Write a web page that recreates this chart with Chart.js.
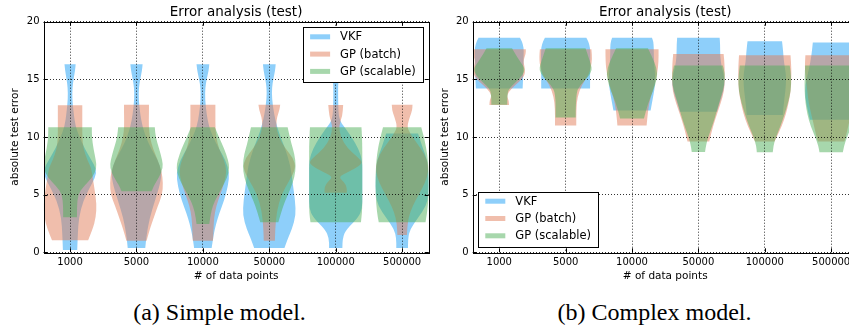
<!DOCTYPE html>
<html>
<head>
<meta charset="utf-8">
<script src="https://cdn.jsdelivr.net/npm/chart.js@4.4.1/dist/chart.umd.min.js"></script>
<style>
html, body { margin:0; padding:0; background:#fff; overflow:hidden; width:849px; height:326px; }
canvas { position:absolute; top:0; }
#left { left:0; }
#right { left:430px; }
.caption { position:absolute; top:300px; line-height:24px; font-family:'Liberation Serif','Times New Roman',serif; font-size:24px; color:#000; white-space:nowrap; transform:translateX(-50%); }
</style>
</head>
<body>
<canvas id="left" width="432" height="290"></canvas>
<canvas id="right" width="445" height="290"></canvas>
<div class="caption" style="left:219.5px">(a) Simple model.</div>
<div class="caption" style="left:654.5px">(b) Complex model.</div>
<script>
// categories and ticks
const categories = ['1000', '5000', '10000', '50000', '100000', '500000'];
const seriesNames = ['VKF', 'GP (batch)', 'GP (scalable)'];
const yTickValues = [0, 5, 10, 15, 20];

// violin outlines: [error value, relative half width]
const simpleVKF = [
  [[0.2,0.27],[1.5,0.29],[3,0.33],[4.5,0.5],[5.5,0.72],[6.5,0.95],[7.2,1.0],[8,0.8],[9,0.55],[10,0.35],[11,0.2],[12,0.14],[13.3,0.08],[14.3,0.09],[15,0.13],[15.8,0.19],[16.3,0.21]],
  [[0.37,0.33],[1.5,0.38],[3,0.5],[4.5,0.7],[6,0.9],[7,0.95],[8,0.8],[9,0.55],[10,0.35],[11,0.22],[12,0.14],[13.3,0.08],[14.3,0.09],[15,0.14],[15.8,0.21],[16.3,0.23]],
  [[0.37,0.33],[1.5,0.4],[2.5,0.5],[3.4,0.62],[4.5,0.8],[5.8,0.95],[6.9,1.0],[8,0.85],[9,0.6],[10,0.38],[11,0.22],[12,0.14],[13.3,0.08],[14.3,0.09],[15,0.14],[15.8,0.22],[16.3,0.24]],
  [[0.37,0.57],[1.2,0.7],[2,0.85],[3.2,1.0],[4.5,0.97],[6,0.88],[7.5,0.8],[9,0.6],[10,0.42],[11,0.28],[12,0.18],[13.3,0.1],[14.3,0.1],[15,0.15],[15.8,0.22],[16.3,0.24]],
  [[0.37,0.25],[1.2,0.25],[2,0.4],[3,0.85],[3.8,1.0],[5,1.0],[6.5,1.0],[8,1.0],[9,0.85],[10,0.6],[10.8,0.35],[11.5,0.12],[13,0.09],[14.5,0.09],[15.5,0.12],[16.3,0.15]],
  [[0.37,0.22],[1.2,0.22],[2,0.3],[3,0.6],[4,0.9],[5,1.0],[6.5,1.0],[8,0.95],[9,0.78],[10.3,0.6]]
];
const simpleBatch = [
  [[1.05,0.68],[2,0.85],[3,0.97],[4.2,1.0],[5.5,0.92],[6.5,0.85],[7.3,0.8],[8,0.65],[9,0.5],[10,0.46],[11,0.46],[12,0.46],[12.75,0.46]],
  [[1.0,0.38],[2,0.5],[3,0.65],[4,0.8],[5,0.97],[6,1.0],[7,0.95],[8,0.8],[9,0.62],[10,0.5],[11,0.46],[12,0.47],[12.8,0.47]],
  [[1.0,0.38],[2,0.4],[3,0.42],[4,0.5],[5,0.65],[6,0.8],[7,0.9],[8,0.8],[9,0.6],[10,0.5],[11,0.47],[12,0.47],[12.8,0.47]],
  [[1.0,0.21],[2,0.22],[3.5,0.28],[5,0.45],[6.2,0.75],[7.3,1.0],[8.2,0.9],[9,0.6],[10,0.35],[11,0.25],[11.8,0.3],[12.3,0.38],[12.8,0.41]],
  [[5.17,0.42],[5.7,0.42],[6.1,0.3],[6.56,0.1],[7,0.5],[7.5,0.9],[7.86,1.0],[8.3,0.8],[9,0.45],[10,0.18],[11,0.12],[11.8,0.25],[12.77,0.28]],
  [[1.5,0.18],[2.5,0.2],[3.5,0.3],[4.5,0.5],[5.5,0.75],[6.5,0.95],[7.5,1.0],[8.5,0.85],[9.5,0.55],[10.3,0.3],[10.9,0.18],[11.8,0.3],[12.3,0.38],[12.8,0.39]]
];
const simpleScalable = [
  [[3.05,0.26],[4,0.26],[5,0.3],[5.7,0.5],[6.5,0.85],[7.3,1.0],[8,0.97],[9,0.88],[10,0.82],[10.85,0.82]],
  [[5.3,0.57],[5.8,0.65],[6.5,0.85],[7.3,1.0],[8,0.97],[9,0.85],[10,0.72],[10.85,0.69]],
  [[2.45,0.24],[3.5,0.3],[4.5,0.45],[5.5,0.7],[6.5,0.92],[7.3,1.0],[8,0.95],[9,0.8],[10,0.6],[10.85,0.45]],
  [[2.6,0.34],[3.5,0.45],[4.5,0.6],[5.5,0.8],[6.5,0.95],[7.5,1.0],[8.5,0.95],[9.5,0.82],[10.85,0.69]],
  [[2.6,0.95],[3.5,1.0],[5,1.0],[6.5,1.0],[8,1.0],[9.5,1.0],[10.85,0.97]],
  [[2.6,0.88],[3.5,0.95],[5,1.0],[7,1.0],[8.5,0.95],[9.7,0.85],[10.85,0.72]]
];
const complexVKF = [
  [[14.2,0.88],[15,0.9],[16,0.9],[17,0.92],[17.8,0.92],[18.3,0.85],[18.6,0.78]],
  [[14.2,0.92],[15,0.92],[16,0.92],[17,0.93],[17.8,0.92],[18.3,0.85],[18.6,0.78]],
  [[12.3,0.7],[13.3,0.78],[14.2,0.85],[15,0.88],[16,0.85],[17,0.82],[17.8,0.82],[18.3,0.8],[18.6,0.75]],
  [[12.2,0.7],[13,0.8],[14,0.95],[15,1.0],[16,0.88],[17,0.82],[18,0.82],[18.6,0.8]],
  [[11.9,0.68],[12.5,0.7],[13.5,0.75],[14.5,0.8],[15.5,0.8],[16.5,0.72],[17.5,0.69],[18.3,0.65]],
  [[11.5,0.8],[12.5,0.9],[13.5,0.98],[14.5,0.97],[15.5,0.88],[16.5,0.78],[17.5,0.72],[18.2,0.69]]
];
const complexBatch = [
  [[12.77,0.37],[13.2,0.36],[13.6,0.28],[14.2,0.45],[15,0.85],[15.6,1.0],[16.6,0.9],[17.2,1.0],[17.6,1.0]],
  [[11.0,0.4],[12.5,0.4],[13.5,0.45],[14.5,0.6],[15.3,0.85],[16,0.95],[16.8,1.0],[17.6,0.97]],
  [[11.0,0.55],[12.3,0.6],[13.5,0.7],[14.5,0.85],[15.5,0.95],[16.5,1.0],[17.6,1.0]],
  [[9.6,0.41],[10,0.45],[11,0.56],[12,0.7],[13,0.85],[14,0.97],[15,1.0],[16.5,0.98],[17.2,0.95]],
  [[9.6,0.37],[10,0.45],[11,0.65],[12,0.8],[13,0.9],[14,0.98],[15,1.0],[16,1.0],[17.1,0.97]],
  [[9.6,0.5],[10,0.55],[11,0.65],[12,0.75],[13,0.85],[14,0.9],[15,0.95],[16,1.0],[17.1,0.97]]
];
const complexScalable = [
  [[12.8,0.3],[13.5,0.3],[14.2,0.35],[15,0.75],[15.8,1.0],[16.5,0.8],[17.2,0.6],[17.7,0.48]],
  [[11.7,0.38],[13.8,0.38],[14.5,0.55],[15.2,0.85],[15.8,1.0],[16.3,0.95],[17,0.85],[17.7,0.75]],
  [[11.6,0.45],[12.5,0.55],[13.5,0.7],[14.5,0.88],[15.5,0.97],[16.5,0.85],[17.7,0.6]],
  [[8.7,0.25],[9.5,0.3],[10.5,0.45],[11.5,0.6],[12.5,0.72],[13.5,0.85],[14.5,0.98],[15.5,1.0],[16.2,0.92]],
  [[8.67,0.3],[9.2,0.32],[10,0.42],[11,0.6],[12,0.75],[13,0.88],[14,0.98],[15.2,1.0],[16.2,0.94]],
  [[8.67,0.44],[9.2,0.48],[10,0.6],[11,0.78],[12,0.9],[13,0.97],[14,1.0],[15,1.0],[16.2,0.98]]
];

const seriesColors = ['rgba(30,160,245,0.5)', 'rgba(225,125,90,0.5)', 'rgba(80,175,90,0.5)'];

Chart.defaults.font.family = "'DejaVu Sans', sans-serif";
Chart.defaults.color = '#000';

// smooth outline through the read points
function trace(ctx, pts) {
  ctx.lineTo(pts[0][0], pts[0][1]);
  for (let k = 1; k < pts.length - 1; k++) {
    const mx = (pts[k][0] + pts[k + 1][0]) / 2;
    const my = (pts[k][1] + pts[k + 1][1]) / 2;
    ctx.quadraticCurveTo(pts[k][0], pts[k][1], mx, my);
  }
  const last = pts[pts.length - 1];
  ctx.lineTo(last[0], last[1]);
}

const violinPlugin = {
  id: 'violins',
  beforeDatasetsDraw(chart) {
    const ctx = chart.ctx;
    const x = chart.scales.x, y = chart.scales.y;
    const area = chart.chartArea;
    ctx.save();
    ctx.beginPath();
    ctx.rect(area.left, area.top, area.right - area.left, area.bottom - area.top);
    ctx.clip();
    chart.data.datasets.forEach(ds => {
      ds.violins.forEach((profile, i) => {
        const c = i + 1;
        const right = profile.map(p => [x.getPixelForValue(c + 0.4 * p[1]), y.getPixelForValue(p[0])]);
        const left = profile.map(p => [x.getPixelForValue(c - 0.4 * p[1]), y.getPixelForValue(p[0])]).reverse();
        ctx.beginPath();
        ctx.moveTo(right[0][0], right[0][1]);
        trace(ctx, right);
        trace(ctx, left);
        ctx.closePath();
        ctx.fillStyle = ds.backgroundColor;
        ctx.fill();
      });
    });
    ctx.restore();
  }
};

const framePlugin = {
  id: 'frame',
  afterDraw(chart, args, opts) {
    const ctx = chart.ctx;
    const a = chart.chartArea;
    const x = chart.scales.x, y = chart.scales.y;
    ctx.save();
    ctx.strokeStyle = '#000';
    ctx.lineWidth = 1;
    ctx.beginPath();
    // tick marks pointing inward on all four sides
    x.ticks.forEach(t => {
      const px = Math.round(x.getPixelForValue(t.value)) + 0.5;
      ctx.moveTo(px, a.bottom); ctx.lineTo(px, a.bottom - 4);
      ctx.moveTo(px, a.top); ctx.lineTo(px, a.top + 4);
    });
    y.ticks.forEach(t => {
      const py = Math.round(y.getPixelForValue(t.value)) + 0.5;
      ctx.moveTo(a.left, py); ctx.lineTo(a.left + 4, py);
      ctx.moveTo(a.right, py); ctx.lineTo(a.right - 4, py);
    });
    ctx.stroke();
    ctx.strokeRect(Math.round(a.left) + 0.5, Math.round(a.top) + 0.5, Math.round(a.right - a.left), Math.round(a.bottom - a.top));

    // legend
    const w = 120, h = 55, pad = 5.6;
    const bx = opts.corner === 'upper right' ? a.right - pad - w : a.left + pad;
    const by = opts.corner === 'upper right' ? a.top + pad : a.bottom - pad - h;
    ctx.fillStyle = '#fff';
    ctx.fillRect(bx, by, w, h);
    ctx.strokeRect(Math.round(bx) + 0.5, Math.round(by) + 0.5, w, h);
    ctx.font = "11.5px 'DejaVu Sans'";
    ctx.textBaseline = 'middle';
    chart.data.datasets.forEach((ds, k) => {
      const ry = by + 9.5 + k * 17.3;
      ctx.fillStyle = ds.backgroundColor;
      ctx.fillRect(bx + 7, ry - 2.5, 20, 5);
      ctx.fillStyle = '#000';
      ctx.fillText(ds.label, bx + 37, ry + 0.5);
    });
    ctx.restore();
  }
};

function makeChart(id, groups, yWidth, yTitlePad, rightPad, corner) {
  return new Chart(document.getElementById(id), {
    type: 'scatter',
    data: {
      datasets: groups.map((g, k) => ({
        label: seriesNames[k],
        data: [],
        violins: g,
        backgroundColor: seriesColors[k]
      }))
    },
    options: {
      responsive: false,
      animation: false,
      devicePixelRatio: 1,
      layout: { padding: { left: 0, top: 0, right: rightPad, bottom: 0 } },
      plugins: {
        legend: { display: false },
        tooltip: { enabled: false },
        title: {
          display: true,
          text: 'Error analysis (test)',
          fullSize: false,
          font: { size: 13.5, weight: 'normal' },
          padding: { top: 4, bottom: 1.5 }
        },
        frame: { corner: corner }
      },
      scales: {
        x: {
          type: 'linear',
          min: 0.6,
          max: 6.4,
          afterBuildTicks: s => { s.ticks = categories.map((c, i) => ({ value: i + 1 })); },
          afterFit: s => { s.height = 37.7; },
          ticks: {
            padding: 4,
            font: { size: 10 },
            maxRotation: 0,
            autoSkip: false,
            callback: v => categories[Math.round(v) - 1]
          },
          grid: { color: 'rgba(0,0,0,0.8)', lineWidth: 1, drawTicks: false, z: 1 },
          border: { display: false, dash: [1, 2] },
          title: { display: true, text: '# of data points', font: { size: 10.5 }, padding: { top: 0, bottom: 7.7 } }
        },
        y: {
          type: 'linear',
          min: 0,
          max: 20,
          afterBuildTicks: s => { s.ticks = yTickValues.map(v => ({ value: v })); },
          afterFit: s => { s.width = yWidth; },
          ticks: { padding: 4, font: { size: 10 } },
          grid: { color: 'rgba(0,0,0,0.8)', lineWidth: 1, drawTicks: false, z: 1 },
          border: { display: false, dash: [1, 2] },
          title: { display: true, text: 'absolute test error', font: { size: 10.5 }, padding: { top: yTitlePad, bottom: 0 } }
        }
      }
    },
    plugins: [violinPlugin, framePlugin]
  });
}

makeChart('left', [simpleVKF, simpleBatch, simpleScalable], 43.5, 9.2, 3.3, 'upper right');
makeChart('right', [complexVKF, complexBatch, complexScalable], 42.7, 8.7, 17.3, 'lower left');
</script>
</body>
</html>
